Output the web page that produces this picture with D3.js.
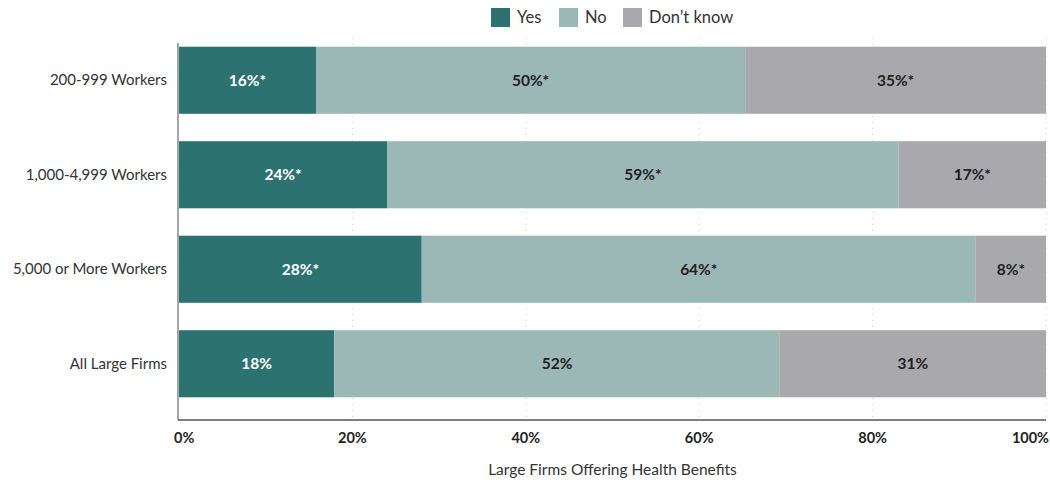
<!DOCTYPE html>
<html>
<head>
<meta charset="utf-8">
<script src="https://cdn.jsdelivr.net/npm/d3@7"></script>
<style>
  body { margin: 0; background: #fff; }
  text { font-family: Lato, "Open Sans", sans-serif; }
</style>
</head>
<body>
<svg id="chart" width="1050" height="483"></svg>
<script>
var categories = ["200-999 Workers", "1,000-4,999 Workers", "5,000 or More Workers", "All Large Firms"];
var seriesNames = ["Yes", "No", "Don\u2019t know"];
var yesVals = [15.8, 24.0, 28.0, 17.9];
var noVals = [49.5, 59.0, 63.9, 51.4];
var dkVals = [34.7, 17.0, 8.1, 30.7];
var yesLabels = ["16%*", "24%*", "28%*", "18%"];
var noLabels = ["50%*", "59%*", "64%*", "52%"];
var dkLabels = ["35%*", "17%*", "8%*", "31%"];
var tickVals = [0, 20, 40, 60, 80, 100];
var colors = ["#2b7271", "#9bb8b7", "#a9a9ad"];
var labelColors = ["#ffffff", "#222222", "#222222"];

var svg = d3.select("#chart");
var margin = {left: 179, right: 4},
    x0 = margin.left, x1 = 1050 - margin.right;

var x = d3.scaleLinear().domain([0, 100]).range([x0, x1]);
var y = d3.scaleBand().domain(categories).range([33, 411]).paddingInner(0.29).paddingOuter(0.145);

// stack the data
var rows = categories.map(function(c, i) {
  return {cat: c, vals: [yesVals[i], noVals[i], dkVals[i]], labs: [yesLabels[i], noLabels[i], dkLabels[i]]};
});

// gridlines
svg.append("g").selectAll("line")
  .data(tickVals.slice(1))
  .enter().append("line")
  .attr("x1", function(d) { return x(d); })
  .attr("x2", function(d) { return x(d); })
  .attr("y1", 38).attr("y2", 420)
  .attr("stroke", "#cfcfcf")
  .attr("stroke-dasharray", "1,5");

// bars
var g = svg.append("g");
rows.forEach(function(r) {
  var start = 0;
  r.vals.forEach(function(v, j) {
    g.append("rect")
      .attr("x", x(start))
      .attr("y", y(r.cat))
      .attr("width", x(start + v) - x(start))
      .attr("height", y.bandwidth())
      .attr("fill", colors[j]);
    g.append("text")
      .attr("x", (x(start) + x(start + v)) / 2)
      .attr("y", y(r.cat) + y.bandwidth() / 2 + 5.5)
      .attr("text-anchor", "middle")
      .attr("font-size", 15.5)
      .attr("font-weight", "bold")
      .attr("fill", labelColors[j])
      .text(r.labs[j]);
    start += v;
  });
});

// category labels
svg.append("g").selectAll("text")
  .data(categories)
  .enter().append("text")
  .attr("x", 167)
  .attr("y", function(d) { return y(d) + y.bandwidth() / 2 + 5; })
  .attr("text-anchor", "end")
  .attr("font-size", 15)
  .attr("fill", "#333")
  .text(function(d) { return d; });

// axes lines
svg.append("line").attr("x1", x0 - 1).attr("x2", x0 - 1).attr("y1", 43).attr("y2", 420)
  .attr("stroke", "#888").attr("stroke-width", 1.5);
svg.append("line").attr("x1", x0 - 1).attr("x2", x1).attr("y1", 420).attr("y2", 420)
  .attr("stroke", "#555").attr("stroke-width", 1.5);

// tick labels
svg.append("g").selectAll("text")
  .data(tickVals)
  .enter().append("text")
  .attr("x", function(d, i) { return i == 0 ? x(d) - 5 : (i == tickVals.length - 1 ? x(d) + 3 : x(d)); })
  .attr("y", 443)
  .attr("text-anchor", function(d, i) { return i == 0 ? "start" : (i == tickVals.length - 1 ? "end" : "middle"); })
  .attr("font-size", 14.5)
  .attr("font-weight", "bold")
  .attr("fill", "#222")
  .text(function(d) { return d + "%"; });

// axis title
svg.append("text")
  .attr("x", (x0 + x1) / 2)
  .attr("y", 475)
  .attr("text-anchor", "middle")
  .attr("font-size", 15.5)
  .attr("fill", "#333")
  .text("Large Firms Offering Health Benefits");

// legend
var legX = [491, 559, 623];
var leg = svg.append("g");
seriesNames.forEach(function(s, i) {
  leg.append("rect").attr("x", legX[i]).attr("y", 8).attr("width", 19).attr("height", 19).attr("fill", colors[i]);
  leg.append("text").attr("x", legX[i] + 26).attr("y", 23).attr("font-size", 16.5).attr("fill", "#333").text(s);
});
</script>
</body>
</html>
